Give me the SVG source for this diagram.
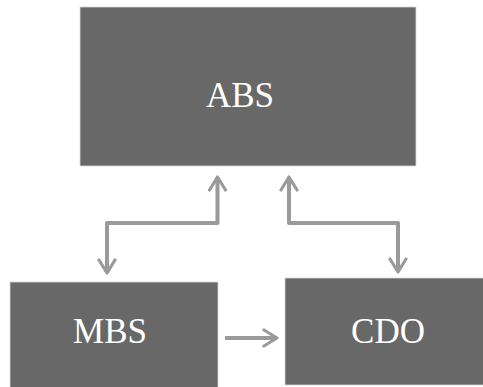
<svg xmlns="http://www.w3.org/2000/svg" width="483" height="387" viewBox="0 0 483 387">
<style>
.box{fill:#686868;stroke:#d8d8d8;stroke-width:0.8}
.lbl{fill:#ffffff;font-family:"Liberation Serif",serif;font-size:35px;text-anchor:middle}
.con{fill:none;stroke:#9a9a9a;stroke-width:4;stroke-linejoin:round}
</style>
<defs>
<marker id="ah" viewBox="0 0 10 10" refX="8" refY="5" markerWidth="5" markerHeight="5" orient="auto-start-reverse" markerUnits="strokeWidth">
<path d="M1.5,1 L8,5 L1.5,9" fill="none" stroke="#9a9a9a" stroke-width="1.6" stroke-linecap="round" stroke-linejoin="round"/>
</marker>
</defs>
<rect width="483" height="387" fill="#ffffff"/>
<g id="connectors">
<path class="con" d="M217.5,177 V223 H107 V273" marker-start="url(#ah)" marker-end="url(#ah)"/>
<path class="con" d="M289,177 V223 H398 V272" marker-start="url(#ah)" marker-end="url(#ah)"/>
<path class="con" d="M225,338 H277" marker-end="url(#ah)"/>
</g>
<g id="abs">
<rect class="box" x="80" y="7" width="336" height="159"/>
<text class="lbl" x="240" y="107">ABS</text>
</g>
<g id="mbs">
<rect class="box" x="10" y="282" width="208" height="106"/>
<text class="lbl" x="110" y="343">MBS</text>
</g>
<g id="cdo">
<rect class="box" x="285" y="278" width="199" height="107"/>
<text class="lbl" x="388" y="343">CDO</text>
</g>
</svg>
